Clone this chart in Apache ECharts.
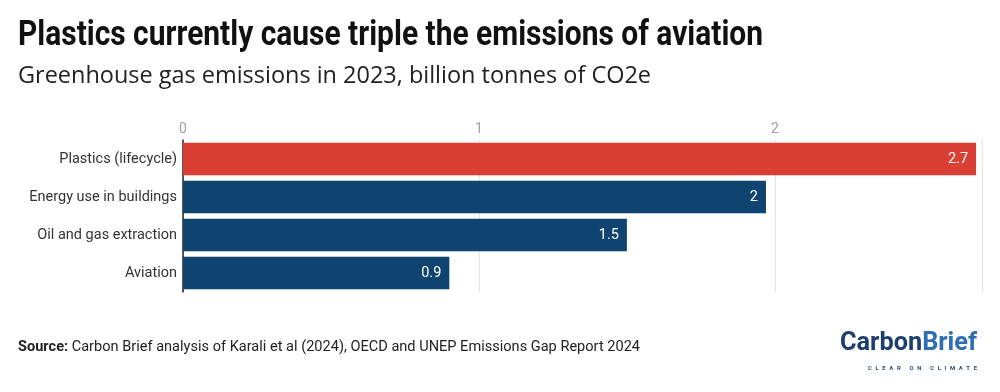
<!DOCTYPE html>
<html>
<head>
<meta charset="utf-8">
<script src="https://cdn.jsdelivr.net/npm/echarts@6/dist/echarts.min.js"></script>
<style>html,body{margin:0;padding:0;background:#fff;}#c{width:1000px;height:392px;}</style>
</head>
<body>
<div id="c"></div>
<script>
const categories = ['Plastics (lifecycle)', 'Energy use in buildings', 'Oil and gas extraction', 'Aviation'];
const values = [2.68, 1.97, 1.5, 0.9];
const barColors = ['#db3f34', '#0f4470', '#0f4470', '#0f4470'];
const xTicks = [0, 1, 2];

const titleText = 'Plastics currently cause triple the emissions of aviation';
const subtitleText = 'Greenhouse gas emissions in 2023, billion tonnes of CO2e';
const sourceLabel = 'Source:';
const sourceText = ' Carbon Brief analysis of Karali et al (2024), OECD and UNEP Emissions Gap Report 2024';
const logoA = 'Carbon';
const logoB = 'Brief';
const tagline = 'CLEAR ON CLIMATE';

const ctx = document.createElement('canvas').getContext('2d');
function measure(text, font) { ctx.font = font; return ctx.measureText(text).width; }

const titleFont = 'bold 35px Roboto';
const subFont = '23px "Open Sans"';
const srcBoldFont = 'bold 15px Roboto';
const srcFont = '15px Roboto';
const logoFont = 'bold 26px Roboto';
const tagFont = 'bold 6px Roboto';

const titleScale = 745 / measure(titleText, titleFont);
const subScale = 633 / measure(subtitleText, subFont);
const srcW = measure(sourceLabel, srcBoldFont) + measure(sourceText, srcFont);
const srcScale = 622 / srcW;
const logoW = measure(logoA + logoB, logoFont);
const logoScale = 137 / logoW;
const tagSpaced = tagline.split('').join('\u2009\u2009\u2009');
const tagW = measure(tagSpaced, tagFont);
const tagScale = 109 / tagW;

const chart = echarts.init(document.getElementById('c'), null, {renderer: 'canvas'});
chart.setOption({
  backgroundColor: '#ffffff',
  animation: false,
  grid: {left: 183, right: 18, top: 140, bottom: 100, containLabel: false},
  xAxis: {
    type: 'value',
    position: 'top',
    min: 0,
    max: 2.7,
    interval: 1,
    axisLine: {show: false},
    axisTick: {show: false},
    splitLine: {show: true, lineStyle: {color: '#e3e3e3', width: 1}},
    axisLabel: {
      color: '#a0a0a0', fontSize: 14, fontFamily: 'Roboto', margin: 4,
      formatter: v => xTicks.includes(v) ? String(v) : ''
    }
  },
  yAxis: {
    type: 'category',
    inverse: true,
    data: categories,
    axisLine: {show: true, lineStyle: {color: '#222', width: 1.5}},
    axisTick: {show: false},
    axisLabel: {color: '#333', fontSize: 14.5, fontFamily: 'Roboto', margin: 6}
  },
  series: [{
    type: 'bar',
    barCategoryGap: '14%',
    data: values.map((v, i) => ({value: v, itemStyle: {color: barColors[i]}})),
    label: {
      show: true,
      position: 'insideRight',
      distance: 8,
      color: '#ffffff',
      fontSize: 14.5,
      fontFamily: 'Roboto',
      formatter: p => String(Number(p.value.toFixed(1)))
    }
  }],
  graphic: [
    {type: 'text', x: 18, y: 19, scaleX: titleScale, style: {text: titleText, font: titleFont, fill: '#111', verticalAlign: 'top'}},
    {type: 'text', x: 18, y: 65, scaleX: subScale, style: {text: subtitleText, font: subFont, fill: '#222', verticalAlign: 'top'}},
    {type: 'text', x: 18, y: 340, scaleX: srcScale, style: {
      text: '{b|' + sourceLabel + '}{n|' + sourceText + '}',
      verticalAlign: 'top',
      rich: {
        b: {font: srcBoldFont, fill: '#222'},
        n: {font: srcFont, fill: '#222'}
      }
    }},
    {type: 'text', x: 840, y: 330, scaleX: logoScale, style: {
      text: '{a|' + logoA + '}{b|' + logoB + '}',
      verticalAlign: 'top',
      rich: {
        a: {font: logoFont, fill: '#1c3f6e'},
        b: {font: logoFont, fill: '#2d6db3'}
      }
    }},
    {type: 'text', x: 868, y: 365, scaleX: tagScale, style: {
      text: tagSpaced, font: tagFont, fill: '#2d4d78', verticalAlign: 'top'
    }}
  ]
});
</script>
</body>
</html>
